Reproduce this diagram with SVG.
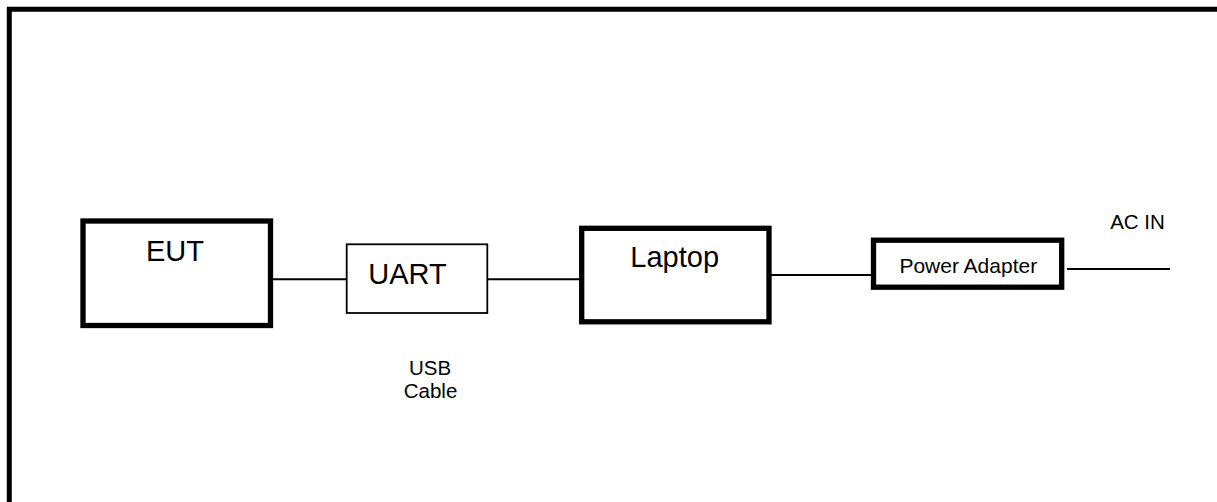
<svg xmlns="http://www.w3.org/2000/svg" width="1217" height="502" viewBox="0 0 1217 502">
<style>
text{font-family:"Liberation Sans",Arial,sans-serif;fill:#000}
.big{font-size:29px}
.small{font-size:20.5px}
.thick{fill:#fff;stroke:#000;stroke-width:5.3}
.thin{fill:#fff;stroke:#000;stroke-width:1.8}
.wire{stroke:#000;stroke-width:2;fill:none}
</style>
<rect width="1217" height="502" fill="#fff"/>
<path id="frame" d="M9.3,502 V9.3 H1217" fill="none" stroke="#000" stroke-width="5"/>
<g id="connectors">
<line class="wire" x1="273" y1="279.3" x2="347" y2="279.3"/>
<line class="wire" x1="487" y1="279.3" x2="580" y2="279.3"/>
<line class="wire" x1="771" y1="275" x2="872" y2="275"/>
<line class="wire" x1="1067" y1="269" x2="1170" y2="269"/>
</g>
<g id="eut">
<rect class="thick" x="83" y="221" width="187.5" height="104.5"/>
<text class="big" x="175" y="261" text-anchor="middle">EUT</text>
</g>
<g id="uart">
<rect class="thin" x="346.7" y="244.3" width="140.6" height="68.7"/>
<text class="big" x="407.5" y="284" text-anchor="middle">UART</text>
</g>
<g id="laptop">
<rect class="thick" x="581.7" y="228.3" width="187.3" height="93.5"/>
<text class="big" x="674.7" y="266.7" text-anchor="middle">Laptop</text>
</g>
<g id="power-adapter">
<rect class="thick" x="873.5" y="240.2" width="188.2" height="47"/>
<text x="968.3" y="272.7" text-anchor="middle" font-size="21">Power Adapter</text>
</g>
<g id="usb-cable-label">
<text class="small" x="430" y="375" text-anchor="middle">USB</text>
<text class="small" x="430.5" y="398.3" text-anchor="middle">Cable</text>
</g>
<g id="ac-in-label">
<text class="small" x="1137.5" y="229.3" text-anchor="middle">AC IN</text>
</g>
</svg>
